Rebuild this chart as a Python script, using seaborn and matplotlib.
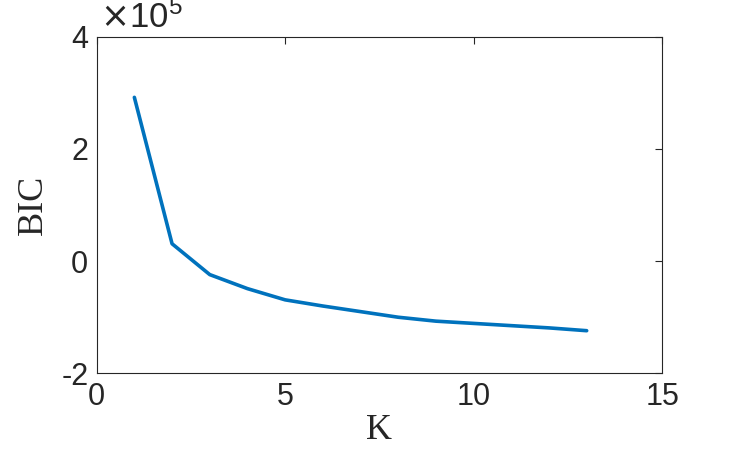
import numpy as np
import pandas as pd
import seaborn as sns
import matplotlib
matplotlib.use("Agg")
import matplotlib.pyplot as plt

# BIC 曲線資料 (讀圖估計)
k_values = [1, 2, 3, 4, 5, 6, 7, 8, 9, 10, 11, 12, 13]
bic_values = [2.92e5, 0.31e5, -0.24e5, -0.49e5, -0.69e5, -0.80e5, -0.90e5,
              -1.00e5, -1.07e5, -1.11e5, -1.15e5, -1.19e5, -1.24e5]
x_ticks = [0, 5, 10, 15]
y_ticks = [-2, 0, 2, 4]
scale = 1e5

sns.set_style("white")
plt.rcParams['font.family'] = ['Liberation Sans', 'DejaVu Sans']
plt.rcParams['axes.unicode_minus'] = False

df = pd.DataFrame({'K': k_values, 'BIC': np.array(bic_values) / scale})

fig = plt.figure(figsize=(7.34, 4.54), dpi=100)
ax = fig.add_axes([0.1317, 0.1777, 0.7703, 0.7413])
sns.lineplot(data=df, x='K', y='BIC', color='#0072BD', linewidth=2.6, ax=ax)

ax.set_xlim(0, 15)
ax.set_ylim(-2, 4)
ax.set_xticks(x_ticks)
ax.set_yticks(y_ticks)
ax.tick_params(direction='in', length=5, width=0.8, colors='#262626',
               labelsize=22, top=True, right=True, pad=6)
for s in ax.spines.values():
    s.set_color('#262626')
    s.set_linewidth(0.8)

ax.set_xlabel('K', family='Liberation Serif', fontsize=26, color='#262626', labelpad=2)
ax.set_ylabel('BIC', family='Liberation Serif', fontsize=26, color='#262626', labelpad=8)
# 指數標示 ×10^5 (左上角)
ax.text(0.006, 1.026, r'$\times\mathregular{10^5}$', transform=ax.transAxes,
        fontsize=25, color='#262626', ha='left', va='baseline')

fig.savefig('out.png', dpi=100)
